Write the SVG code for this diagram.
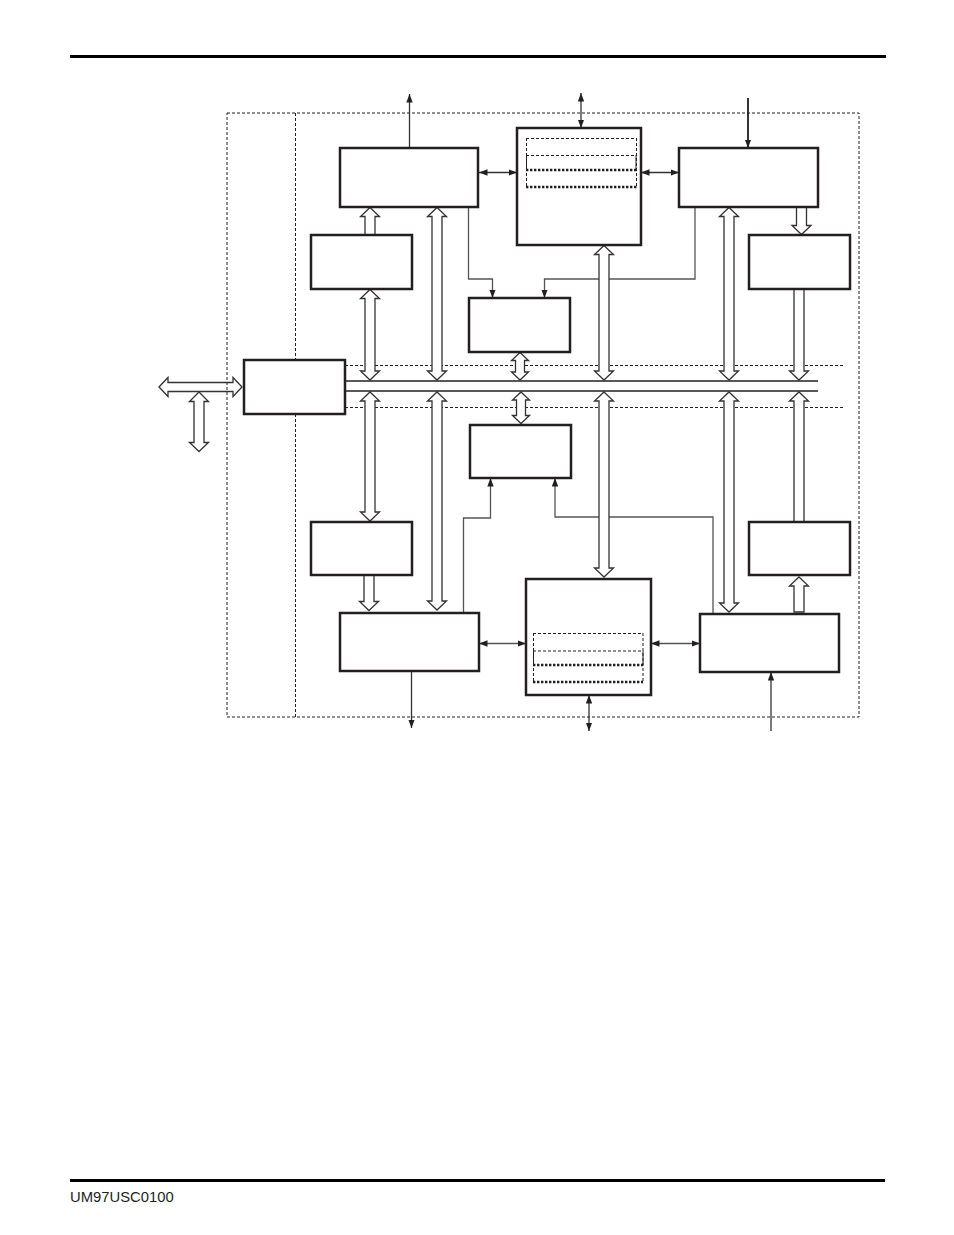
<svg xmlns="http://www.w3.org/2000/svg" width="954" height="1235" viewBox="0 0 954 1235">
<style>
.box{fill:#fff;stroke:#231f20;stroke-width:2.5}
.dash{fill:none;stroke:#231f20;stroke-width:1;stroke-dasharray:3 2}
.dot{fill:none;stroke:#231f20;stroke-width:2.3;stroke-dasharray:2.4 1.6}
.thin{fill:none;stroke:#231f20;stroke-width:1}
.hol{fill:#fff;stroke:#333;stroke-width:1.3;stroke-linejoin:miter}
.wire{fill:none;stroke:#555;stroke-width:1.3}
.sig{fill:none;stroke:#333;stroke-width:1.3}
.bus{stroke:#231f20;stroke-width:1.5}
.rule{fill:#000}
.foot{font-family:"Liberation Sans",Arial,sans-serif;font-size:14.8px;fill:#231f20}
</style>
<defs>
<marker id="ah" viewBox="0 0 8 6" refX="8" refY="3" markerWidth="8.5" markerHeight="6.5" markerUnits="userSpaceOnUse" orient="auto-start-reverse">
<path d="M0,0 L8,3 L0,6 z" fill="#231f20"/>
</marker>
</defs>
<rect class="rule" x="70" y="55" width="816" height="3"/>
<rect class="rule" x="70" y="1179" width="815" height="3"/>
<text class="foot" x="70" y="1202">UM97USC0100</text>

<g id="boundaries">
<line class="dash" x1="295.5" y1="113" x2="295.5" y2="360"/>
<line class="dash" x1="295.5" y1="414" x2="295.5" y2="717"/>
<line class="dash" x1="345" y1="365.5" x2="843" y2="365.5"/>
<line class="dash" x1="345" y1="407.5" x2="843" y2="407.5"/>
</g>

<g id="connectors">
<line class="bus" x1="345" y1="381" x2="818" y2="381"/>
<line class="bus" x1="345" y1="391" x2="818" y2="391"/>
<line class="sig" x1="409.5" y1="148" x2="409.5" y2="94" marker-end="url(#ah)"/>
<line class="sig" x1="581" y1="128" x2="581" y2="93" marker-start="url(#ah)" marker-end="url(#ah)"/>
<line class="sig" x1="479" y1="172.5" x2="517" y2="172.5" marker-start="url(#ah)" marker-end="url(#ah)"/>
<line class="sig" x1="641" y1="172.5" x2="679" y2="172.5" marker-start="url(#ah)" marker-end="url(#ah)"/>
<line class="sig" style="stroke-width:2" x1="748" y1="98" x2="748" y2="148" marker-end="url(#ah)"/>
<path class="wire" d="M468.5,207 V279 H492.5 V298" marker-end="url(#ah)"/>
<path class="wire" d="M695,207 V279 H544.5 V298" marker-end="url(#ah)"/>
<path class="wire" d="M463.5,613 V518 H490.5 V478" marker-end="url(#ah)"/>
<path class="wire" d="M713,614 V517 H555 V478" marker-end="url(#ah)"/>
<line class="wire" x1="479" y1="643.5" x2="526" y2="643.5" marker-start="url(#ah)" marker-end="url(#ah)"/>
<line class="wire" x1="651" y1="643.5" x2="700" y2="643.5" marker-start="url(#ah)" marker-end="url(#ah)"/>
<line class="sig" x1="411.5" y1="671" x2="411.5" y2="728" marker-end="url(#ah)"/>
<line class="sig" x1="589" y1="695" x2="589" y2="731" marker-start="url(#ah)" marker-end="url(#ah)"/>
<line class="sig" x1="771" y1="731" x2="771" y2="672" marker-end="url(#ah)"/>

<polygon class="hol" points="370,207.5 379.5,216.5 375,216.5 375,235 365,235 365,216.5 360.5,216.5"/>
<polygon class="hol" points="370,289.5 379.5,298.5 375,298.5 375,371 379.5,371 370,380 360.5,371 365,371 365,298.5 360.5,298.5"/>
<polygon class="hol" points="437,207.5 446.5,216.5 442,216.5 442,371 446.5,371 437,380 427.5,371 432,371 432,216.5 427.5,216.5"/>
<polygon class="hol" points="520,352.5 528.5,360.5 524.5,360.5 524.5,372 528.5,372 520,380 511.5,372 515.5,372 515.5,360.5 511.5,360.5"/>
<polygon class="hol" points="604,245.5 613.5,254.5 609,254.5 609,371 613.5,371 604,380 594.5,371 599,371 599,254.5 594.5,254.5"/>
<polygon class="hol" points="729,207.5 738.5,216.5 734,216.5 734,371 738.5,371 729,380 719.5,371 724,371 724,216.5 719.5,216.5"/>
<polygon class="hol" points="796.5,207 806.5,207 806.5,225.5 811,225.5 801.5,234.5 792,225.5 796.5,225.5"/>
<polygon class="hol" points="794,289 804,289 804,371 808.5,371 799,380 789.5,371 794,371"/>
<polygon class="hol" points="370,392 379.5,401 375,401 375,512 379.5,512 370,521 360.5,512 365,512 365,401 360.5,401"/>
<polygon class="hol" points="364,575 374,575 374,601.5 378.5,601.5 369,610.5 359.5,601.5 364,601.5"/>
<polygon class="hol" points="437,392 446.5,401 442,401 442,601 446.5,601 437,610 427.5,601 432,601 432,401 427.5,401"/>
<polygon class="hol" points="521,392 529.5,400 525.5,400 525.5,415.5 529.5,415.5 521,423.5 512.5,415.5 516.5,415.5 516.5,400 512.5,400"/>
<polygon class="hol" points="604,392 613.5,401 609,401 609,568 613.5,568 604,577 594.5,568 599,568 599,401 594.5,401"/>
<polygon class="hol" points="729,392 738.5,401 734,401 734,603 738.5,603 729,612 719.5,603 724,603 724,401 719.5,401"/>
<polygon class="hol" points="799,392 808.5,401 804,401 804,522 794,522 794,401 789.5,401"/>
<polygon class="hol" points="799,577 808.5,586 804,586 804,612 794,612 794,586 789.5,586"/>
<polygon class="hol" points="159,387 168,377.5 168,382.5 233,382.5 233,377.5 242,387 233,396.5 233,391.5 168,391.5 168,396.5"/>
<polygon class="hol" points="199,392 208.5,401.5 204,401.5 204,442.5 208.5,442.5 199,451.5 189.5,442.5 194,442.5 194,401.5 189.5,401.5"/>
</g>

<g id="outer-boundary">
<rect class="dash" x="227" y="113" width="632" height="604"/>
</g>

<g id="node-a"><rect class="box" x="340" y="148" width="138" height="59"/></g>
<g id="node-c"><rect class="box" x="679" y="148" width="139" height="59"/></g>
<g id="node-m1">
<rect class="box" x="517" y="128" width="124" height="117"/>
<line class="dash" x1="526" y1="138.5" x2="637" y2="138.5"/>
<line class="dash" x1="526.5" y1="138" x2="526.5" y2="187"/>
<line class="dash" x1="636.5" y1="138" x2="636.5" y2="187"/>
<line class="dash" x1="526" y1="155.5" x2="636" y2="155.5"/>
<line class="thin" x1="526.5" y1="155" x2="526.5" y2="170"/>
<line class="thin" x1="636" y1="155" x2="636" y2="170"/>
<line class="dot" x1="526" y1="170" x2="637" y2="170"/>
<line class="dot" x1="526" y1="187" x2="637" y2="187"/>
</g>
<g id="node-e"><rect class="box" x="311" y="235" width="101" height="54"/></g>
<g id="node-d"><rect class="box" x="749" y="235" width="101" height="54"/></g>
<g id="node-b"><rect class="box" x="469" y="298" width="101" height="54"/></g>
<g id="node-bif"><rect class="box" x="244" y="360" width="101" height="54"/></g>
<g id="node-h"><rect class="box" x="470" y="425" width="101" height="53"/></g>
<g id="node-f"><rect class="box" x="311" y="522" width="101" height="53"/></g>
<g id="node-j"><rect class="box" x="749" y="522" width="101" height="53"/></g>
<g id="node-g"><rect class="box" x="340" y="613" width="139" height="58"/></g>
<g id="node-m2">
<rect class="box" x="526" y="579" width="125" height="116"/>
<line class="dash" x1="533" y1="633.5" x2="643" y2="633.5"/>
<line class="dash" x1="533.5" y1="633" x2="533.5" y2="682"/>
<line class="dash" x1="643" y1="633" x2="643" y2="682"/>
<line class="dash" x1="533" y1="651" x2="643" y2="651"/>
<line class="thin" x1="533.5" y1="651" x2="533.5" y2="665"/>
<line class="thin" x1="643" y1="651" x2="643" y2="665"/>
<line class="dot" x1="533" y1="665" x2="643" y2="665"/>
<line class="dot" x1="533" y1="682" x2="643" y2="682"/>
</g>
<g id="node-i"><rect class="box" x="700" y="614" width="139" height="58"/></g>
</svg>
